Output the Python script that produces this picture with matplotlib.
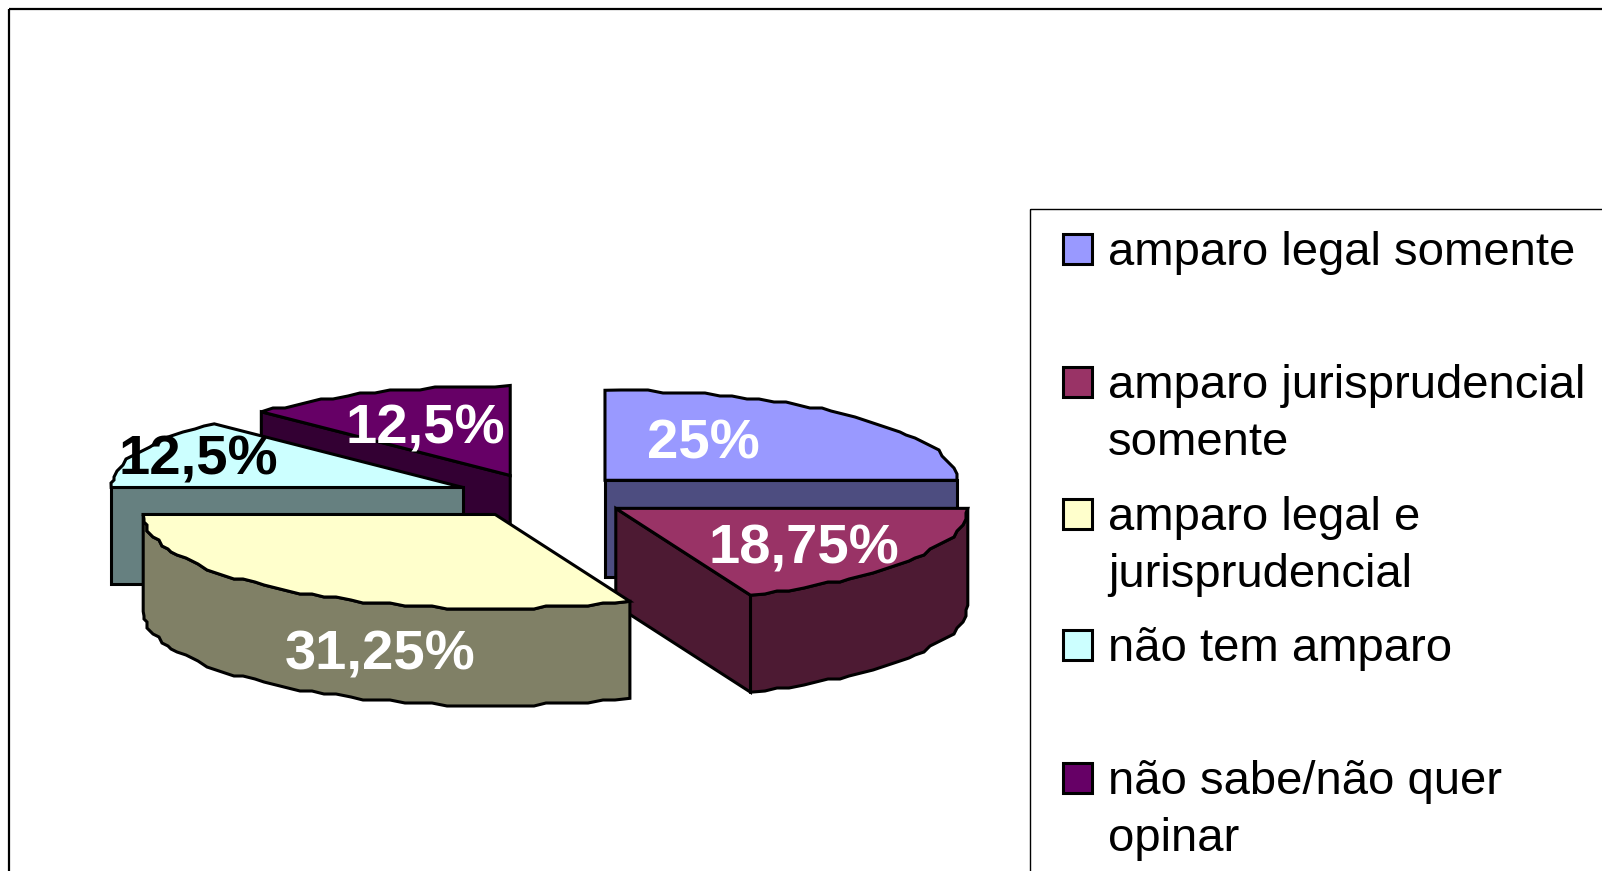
import numpy as np
import matplotlib
matplotlib.use('Agg')
import matplotlib.pyplot as plt
from matplotlib.patches import Polygon, Rectangle

categories = ['amparo legal somente', 'amparo jurisprudencial\nsomente', 'amparo legal e\njurisprudencial',
              'não tem amparo', 'não sabe/não quer\nopinar']
values = [25, 18.75, 31.25, 12.5, 12.5]
top_colors = ['#9999FF', '#993366', '#FFFFCC', '#CCFFFF', '#660066']
side_colors = ['#4D4D80', '#4D1A33', '#808066', '#668080', '#330033']
label_colors = ['white', 'white', 'white', 'black', 'white']

# layout, in pixels of the picture
CX, CY = 543.5, 496
RX, RY = 352, 90
RY_FRONT = 94 # near half of the ellipse is a bit deeper, 3d perspective
DEPTH = 97
EXPLODE = 0.247
GRID = 3 # the arcs of the original are stair stepped
label_pos = [(703, 444), (804, 549), (380, 655), (198, 460), (425, 429)]
legend_y = [253, 386, 518, 649, 782]
LINE_H = 57

plt.rcParams['font.family'] = ['Liberation Sans', 'DejaVu Sans']


def arc(cx, cy, a0, a1):
	# clockwise from 12 o'clock, angles in degrees
	n = max(int(abs(a1 - a0) * RX * np.pi / 180 / 14), 2)
	t = np.radians(np.linspace(a0, a1, n))
	x = cx + RX * np.sin(t)
	c = np.cos(t)
	y = cy - np.where(c < 0, RY_FRONT, RY) * c
	x[1:-1] = np.round(x[1:-1] / GRID) * GRID
	y[1:-1] = np.round(y[1:-1] / GRID) * GRID
	return np.column_stack([x, y])


def poly(ax, pts, color):
	ax.add_patch(Polygon(pts, closed=True, facecolor=color, edgecolor='black', linewidth=2.2, joinstyle='miter'))


def draw_slice(ax, i, a0, a1):
	mid = np.radians((a0 + a1) / 2)
	cx = CX + EXPLODE * RX * np.sin(mid)
	cy = CY - EXPLODE * RY * np.cos(mid)
	down = np.array([0, DEPTH])
	c = np.array([cx, cy])

	# outer wall, only the part facing the viewer
	f0, f1 = max(a0, 90), min(a1, 270)
	if f1 > f0:
		top = arc(cx, cy, f0, f1)
		poly(ax, np.vstack([top, (top + down)[::-1]]), side_colors[i])

	# cut walls
	for a, sign in ((a0, -1), (a1, 1)):
		if sign * np.sin(np.radians(a)) > 1e-6:
			p = arc(cx, cy, a, a)[0]
			poly(ax, [c, p, p + down, c + down], side_colors[i])

	poly(ax, np.vstack([[c], arc(cx, cy, a0, a1)]), top_colors[i])


fig = plt.figure(figsize=(16.02, 8.71), dpi=100)
ax = fig.add_axes([0, 0, 1, 1])
ax.set_xlim(0, 1602)
ax.set_ylim(871, 0)
ax.axis('off')

# chart frame and legend box run off the picture on the right and bottom
ax.add_patch(Rectangle((9, 9.5), 1700, 1000, fill=False, edgecolor='black', linewidth=1.6))
ax.add_patch(Rectangle((1030, 209), 700, 800, fill=False, edgecolor='black', linewidth=1.0))

bounds = np.concatenate([[0], np.cumsum(values)]) / sum(values) * 360
for i in [4, 3, 0, 1, 2]:
	draw_slice(ax, i, bounds[i], bounds[i + 1])

for v, pos, col in zip(values, label_pos, label_colors):
	txt = f'{v:g}'.replace('.', ',') + '%'
	ax.text(pos[0], pos[1], txt, color=col, fontsize=40.5, fontweight='bold', ha='center', va='center')

for name, col, y in zip(categories, top_colors, legend_y):
	ax.add_patch(Rectangle((1062.5, y - 19), 29, 30, facecolor=col, edgecolor='black', linewidth=2.2))
	for k, line in enumerate(name.split('\n')):
		ax.text(1108, y + k * LINE_H, line, color='black', fontsize=34, ha='left', va='center')

fig.savefig('out.png', dpi=100)
